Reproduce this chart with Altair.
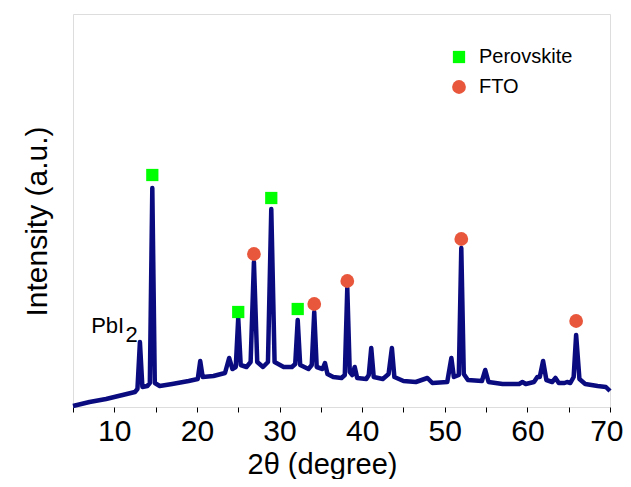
import altair as alt
import pandas as pd

# XRD pattern (2theta in degrees, intensity in arbitrary units)
theta = [5.0, 7.0, 9.0, 11.0, 12.5,
         12.8, 13.1, 13.4, 14.0, 14.3, 14.6, 14.9, 15.5, 17.0, 19.0,
         20.1, 20.4, 20.7, 22.0, 23.4, 23.9, 24.3, 24.7, 25.0, 25.3,
         26.0, 26.5, 26.9, 27.3, 28.0, 28.6, 29.0, 29.4, 30.5, 31.5,
         31.9, 32.2, 32.5, 33.5, 33.9, 34.2, 34.5, 35.2, 35.5, 35.8,
         36.5, 37.5, 37.9, 38.2, 38.5, 38.8, 39.1, 39.4, 40.5, 40.8,
         41.1, 41.4, 42.5, 43.2, 43.6, 43.9, 45.0, 46.5, 47.9, 48.5,
         50.3, 50.8, 51.1, 51.7, 52.0, 52.3, 52.8, 54.5, 54.9, 55.3,
         57.0, 59.0, 59.4, 59.8, 60.8, 61.2, 61.5, 61.9, 62.3, 63.0,
         63.4, 63.8, 64.5, 64.8, 65.2, 65.6, 65.9, 66.3, 67.0, 68.5,
         69.5, 70.0]
intensity = [1, 5, 8, 12, 15,
             18, 65, 20, 21, 24, 219, 24, 21, 23, 26,
             28, 46, 30, 31, 34, 49, 38, 40, 89, 42,
             40, 45, 145, 45, 40, 45, 198, 45, 40, 40,
             43, 87, 42, 38, 42, 95, 40, 38, 44, 33,
             30, 29, 32, 119, 35, 32, 40, 29, 28, 32,
             59, 30, 28, 33, 59, 30, 26, 25, 29, 24,
             25, 49, 30, 32, 159, 33, 27, 26, 37, 25,
             23, 23, 25, 23, 25, 30, 30, 46, 27, 25,
             29, 24, 24, 25, 24, 30, 72, 28, 23, 21,
             20, 16]

# peak markers
perov_x = [14.6, 25.0, 29.0, 32.2]
perov_y = [232, 95, 209, 98]
fto_x = [26.9, 34.2, 38.2, 52.0, 65.9]
fto_y = [153, 103, 126, 168, 86]

phases = ["Perovskite", "FTO"]
phase_colors = ["#00ff00", "#e8573c"]
phase_shapes = ["square", "circle"]
phase_sizes = [150, 190]

x_ticks = [5, 10, 15, 20, 25, 30, 35, 40, 45, 50, 55, 60, 65, 70]

FONT = "Liberation Sans"

line_df = pd.DataFrame({"theta": theta, "I": intensity})
mk_df = pd.DataFrame({
    "theta": perov_x + fto_x,
    "I": perov_y + fto_y,
    "phase": ["Perovskite"] * len(perov_x) + ["FTO"] * len(fto_x),
})
lab_df = pd.DataFrame({"theta": [11.2], "I": [74], "t": ["PbI"]})
sub_df = pd.DataFrame({"theta": [11.35], "I": [65], "t": ["2"]})

xscale = alt.Scale(domain=[5, 70], nice=False, zero=False)
yscale = alt.Scale(domain=[0, 393], nice=False, zero=False)

xaxis = alt.Axis(
    values=x_ticks,
    labelExpr="datum.value % 10 == 0 ? datum.label : ''",
    title="2θ (degree)",
    titleFont=FONT, titleFontSize=29, titleFontWeight="normal", titleColor="black",
    titleX=249, titleY=66, titleAlign="center", titleBaseline="alphabetic",
    labelFont=FONT, labelFontSize=30, labelColor="black", labelPadding=4,
    labelFlush=True, labelFlushOffset=13,
    tickSize=5, tickColor="black", tickWidth=1, domain=False, grid=False,
    labelOverlap=False,
)
yaxis = alt.Axis(
    title="Intensity (a.u.)",
    titleFont=FONT, titleFontSize=30, titleFontWeight="normal", titleColor="black",
    titleX=-27, titleY=207, titleAlign="center", titleBaseline="alphabetic", titleAngle=270,
    labels=False, ticks=False, domain=False, grid=False,
)

line = alt.Chart(line_df).mark_line(color="#0b0b80", strokeWidth=4.5, strokeJoin="round").encode(
    x=alt.X("theta:Q", scale=xscale, axis=xaxis),
    y=alt.Y("I:Q", scale=yscale, axis=yaxis),
)

pts = alt.Chart(mk_df).mark_point(filled=True, opacity=1, strokeWidth=0).encode(
    x=alt.X("theta:Q", scale=xscale),
    y=alt.Y("I:Q", scale=yscale),
    color=alt.Color("phase:N", scale=alt.Scale(domain=phases, range=phase_colors),
                    legend=alt.Legend(title=None, orient="none", legendX=376, legendY=33,
                                      labelFont=FONT, labelFontSize=20, labelColor="black",
                                      symbolSize=170, rowPadding=10, labelOffset=10,
                                      symbolStrokeWidth=0, symbolOpacity=1)),
    shape=alt.Shape("phase:N", scale=alt.Scale(domain=phases, range=phase_shapes)),
    size=alt.Size("phase:N", scale=alt.Scale(domain=phases, range=phase_sizes), legend=None),
)

lab = alt.Chart(lab_df).mark_text(font=FONT, fontSize=22, align="right", baseline="alphabetic", color="black").encode(
    x=alt.X("theta:Q", scale=xscale), y=alt.Y("I:Q", scale=yscale), text="t:N")
sub = alt.Chart(sub_df).mark_text(font=FONT, fontSize=22, align="left", baseline="alphabetic", color="black").encode(
    x=alt.X("theta:Q", scale=xscale), y=alt.Y("I:Q", scale=yscale), text="t:N")

chart = alt.layer(line, pts, lab, sub).properties(
    width=537, height=393,
    autosize=alt.AutoSizeParams(type="none"),
    padding={"left": 65, "top": 6, "right": 13, "bottom": 72},
).configure_view(stroke="#333333", strokeWidth=2).configure(background="white")

chart.save("out.html", embed_options={"renderer": "svg", "actions": False})
